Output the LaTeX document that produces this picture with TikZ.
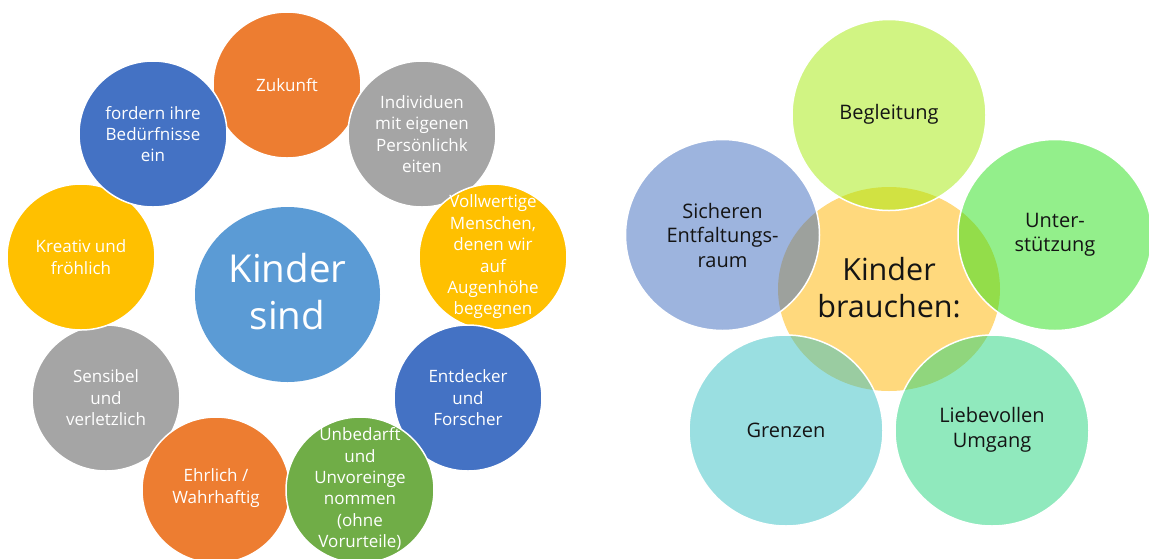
\documentclass[tikz,border=0pt]{standalone}
\usepackage{fontspec}
\setmainfont{Open Sans}
\usetikzlibrary{shapes.geometric}
\definecolor{cOrange}{RGB}{237,125,49}
\definecolor{cBlue}{RGB}{68,114,196}
\definecolor{cGrey}{RGB}{165,165,165}
\definecolor{cYellow}{RGB}{255,192,0}
\definecolor{cGreen}{RGB}{112,173,71}
\definecolor{cCenter}{RGB}{91,155,213}
\definecolor{cGold}{RGB}{255,217,125}
\definecolor{cBeg}{RGB}{165,235,9}
\definecolor{cSich}{RGB}{60,106,190}
\definecolor{cUnt}{RGB}{41,225,25}
\definecolor{cGren}{RGB}{55,193,197}
\definecolor{cLieb}{RGB}{35,213,125}
\definecolor{txtblack}{RGB}{20,20,20}
\begin{document}
\begin{tikzpicture}[x=1pt,y=-1pt,
  bub/.style={ellipse, draw=white, line width=1.5pt, inner sep=0pt,
    minimum width=148pt, minimum height=146pt},
  ltxt/.style={text=white, align=center, inner sep=0pt,
    font=\fontsize{17}{21.4}\selectfont},
  rbub/.style={ellipse, draw=white, line width=1.5pt, fill opacity=0.5,
    draw opacity=1, inner sep=0pt, minimum width=194pt, minimum height=191pt},
  rtxt/.style={text=txtblack, align=center, inner sep=0pt,
    font=\fontsize{20}{24.5}\selectfont}]
\useasboundingbox (0,0) rectangle (1149,558);
\fill[white] (0,0) rectangle (1149,558);

% ---------- left diagram ----------
\node[ellipse, fill=cCenter, inner sep=0pt, minimum width=185pt, minimum height=175pt] (ks) at (287.5,294.5) {};
\node[text=white, align=center, inner sep=0pt, font=\fontsize{38.5}{47}\selectfont] (ks-t) at (287.5,292) {Kinder\\sind};

\node[bub, fill=cOrange] (zuk) at (287,85) {};
\node[bub, fill=cGrey] (sens) at (106,398) {};
\node[bub, fill=cGrey] (indiv) at (422,134) {};
\node[bub, fill=cOrange] (ehr) at (216,490) {};
\node[bub, fill=cYellow] (krea) at (81,257) {};
\node[bub, fill=cYellow] (voll) at (493,257) {};
\node[bub, fill=cBlue] (ford) at (153,134) {};
\node[bub, fill=cBlue] (ent) at (468,398) {};
\node[bub, fill=cGreen] (unb) at (360,490) {};

\node[ltxt] (zuk-t) at (zuk) {Zukunft};
\node[ltxt] (indiv-t) at (indiv) {Individuen\\mit eigenen\\Persönlichk\\eiten};
\node[ltxt] (voll-t) at (voll) {Vollwertige\\Menschen,\\denen wir\\auf\\Augenhöhe\\begegnen};
\node[ltxt] (ent-t) at (ent) {Entdecker\\und\\Forscher};
\node[ltxt] (unb-t) at (360,489) {Unbedarft\\und\\Unvoreinge\\nommen\\(ohne\\Vorurteile)};
\node[ltxt] (ehr-t) at (216,488) {Ehrlich /\\Wahrhaftig};
\node[ltxt] (sens-t) at (sens) {Sensibel\\und\\verletzlich};
\node[ltxt] (krea-t) at (krea) {Kreativ und\\fröhlich};
\node[ltxt] (ford-t) at (ford) {fordern ihre\\Bedürfnisse\\ein};

% ---------- right diagram ----------
\node[ellipse, fill=cGold, inner sep=0pt, minimum width=222pt, minimum height=204pt] (kb) at (889,289) {};

\node[rbub, fill=cBeg] (beg) at (889,115) {};
\node[rbub, fill=cUnt] (unt) at (1055,235) {};
\node[rbub, fill=cLieb] (lieb) at (992,430.5) {};
\node[rbub, fill=cGren] (gren) at (786,430.5) {};
\node[rbub, fill=cSich] (sich) at (722.5,235) {};

\node[text=txtblack, align=center, inner sep=0pt, font=\fontsize{30.5}{37}\selectfont] (kb-t) at (889,288) {Kinder\\brauchen:};
\node[rtxt] (beg-t) at (889,114) {Begleitung};
\node[rtxt] (unt-t) at (1055,235) {Unter-\\stützung};
\node[rtxt] (lieb-t) at (992,430) {Liebevollen\\Umgang};
\node[rtxt] (gren-t) at (786,430) {Grenzen};
\node[rtxt] (sich-t) at (722.5,235) {Sicheren\\Entfaltungs-\\raum};
\end{tikzpicture}
\end{document}
